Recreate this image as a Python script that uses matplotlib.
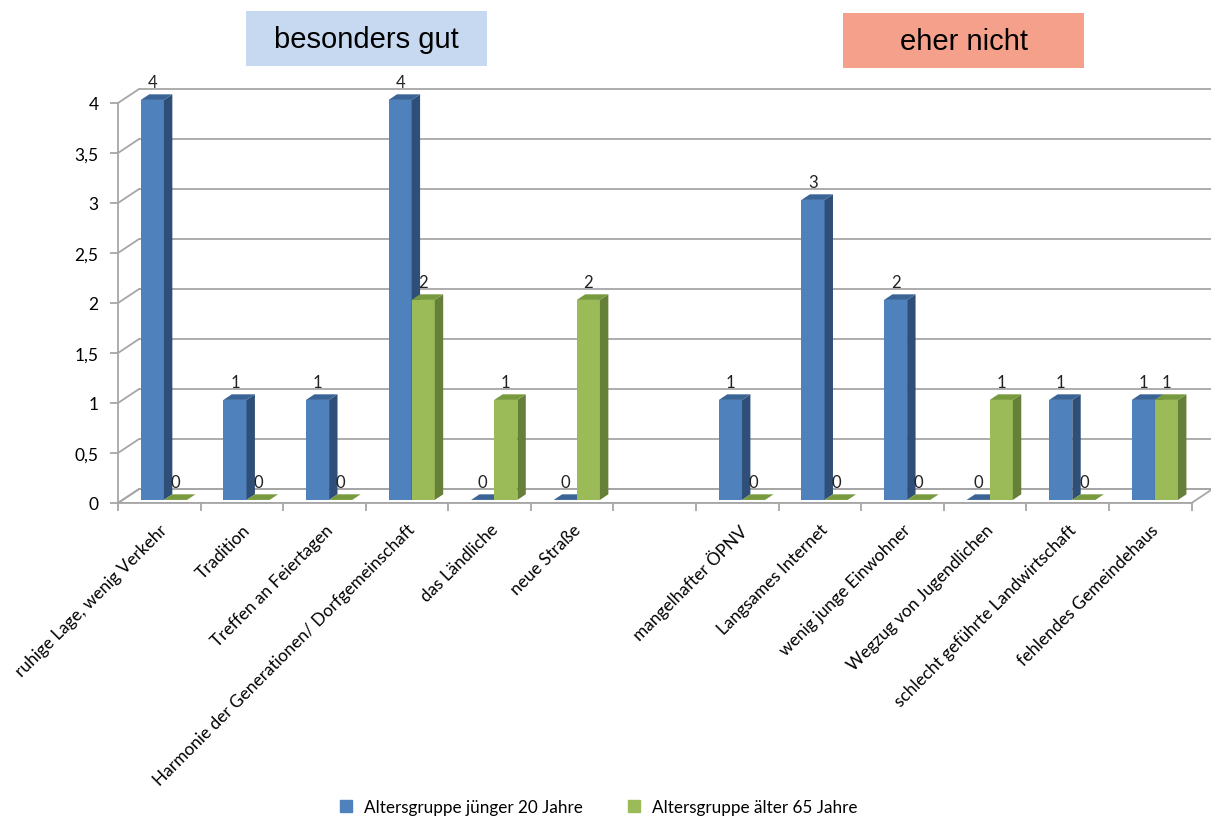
import numpy as np
import matplotlib
matplotlib.use("Agg")
import matplotlib.pyplot as plt
from matplotlib.patches import Polygon, Rectangle
from matplotlib.lines import Line2D

# data
categories = ["ruhige Lage, wenig Verkehr", "Tradition", "Treffen an Feiertagen",
              "Harmonie der Generationen/ Dorfgemeinschaft", "das Ländliche", "neue Straße",
              "",
              "mangelhafter ÖPNV", "Langsames Internet", "wenig junge Einwohner",
              "Wegzug von Jugendlichen", "schlecht geführte Landwirtschaft", "fehlendes Gemeindehaus"]
young = [4, 1, 1, 4, 0, 0, None, 1, 3, 2, 0, 1, 1]
old = [0, 0, 0, 2, 1, 2, None, 0, 0, 0, 1, 0, 1]
series_names = ["Altersgruppe jünger 20 Jahre", "Altersgruppe älter 65 Jahre"]
yticks = np.arange(0, 4.01, 0.5)
group_titles = ["besonders gut", "eher nicht"]

# colours (front, side, top)
blue = ("#4f81bd", "#2f4f78", "#3b6496")
green = ("#9bbb59", "#66803a", "#789a3e")
grid_c = "#a6a6a6"

# pseudo 3d depth in data units
DX, DY = 0.255, 0.14
F_FRONT, F_BACK = 0.22, 0.62
BW = 0.28

plt.rcParams['font.family'] = ['Lato', 'DejaVu Sans']

fig = plt.figure(figsize=(12.11, 8.20), dpi=100)
ax = fig.add_axes([118 / 1211, 316 / 820, 1095 / 1211, 420 / 820])
n = len(categories)
ax.set_xlim(0, 13.26)
ax.set_ylim(0, 4.2)

# floor
floor = Polygon([(0, 0), (n, 0), (n + DX, DY), (DX, DY)], closed=True,
                facecolor="white", edgecolor=grid_c, lw=1.3, zorder=1)
ax.add_patch(floor)
# back wall gridlines + left wall diagonals
for v in yticks:
    ax.plot([DX, n + DX], [v + DY, v + DY], color=grid_c, lw=1.3, zorder=1,
            solid_capstyle='butt')
    ax.plot([0, DX], [v, v + DY], color=grid_c, lw=1.3, zorder=1)


def draw_bar(x0, val, cols):
    xf = x0 + DX * F_FRONT
    yf = DY * F_FRONT
    dx = DX * (F_BACK - F_FRONT)
    dy = DY * (F_BACK - F_FRONT)
    if val > 0:
        ax.bar(xf, val, width=BW, bottom=yf, align='edge', color=cols[0],
               lw=0, zorder=3)
        side = Polygon([(xf + BW, yf), (xf + BW + dx, yf + dy),
                        (xf + BW + dx, yf + val + dy), (xf + BW, yf + val)],
                       closed=True, facecolor=cols[1], lw=0, zorder=3)
        ax.add_patch(side)
    top = Polygon([(xf, yf + val), (xf + BW, yf + val),
                   (xf + BW + dx, yf + val + dy), (xf + dx, yf + val + dy)],
                  closed=True, facecolor=cols[2], lw=0, zorder=3)
    ax.add_patch(top)
    ax.annotate(str(val), (xf + BW / 2, yf + val + dy), xytext=(0, 3),
                textcoords='offset points', ha='center', va='bottom',
                fontsize=12, color="#222222", zorder=5)


for i in range(n):
    if young[i] is None:
        continue
    c = i + 0.5
    draw_bar(c - BW, young[i], blue)
    draw_bar(c, old[i], green)

# axes styling
for s in ['top', 'right']:
    ax.spines[s].set_visible(False)
ax.spines['left'].set_bounds(0, 4)
ax.spines['bottom'].set_bounds(0, n)
for s in ['left', 'bottom']:
    ax.spines[s].set_color(grid_c)
    ax.spines[s].set_linewidth(1.3)
    ax.spines[s].set_zorder(2)

ax.set_yticks(yticks)
ax.set_yticklabels([("%g" % v).replace(".", ",") for v in yticks], fontsize=12.5)
ax.tick_params(axis='y', length=6, width=1.3, color=grid_c, pad=8)

ax.set_xticks(np.arange(n) + 0.5)
ax.set_xticklabels(categories, rotation=45, ha='right', va='top',
                   rotation_mode='anchor', fontsize=12.4)
ax.tick_params(axis='x', which='major', length=0, pad=13)
ax.set_xticks(np.arange(n + 1), minor=True)
ax.tick_params(axis='x', which='minor', length=6, width=1.3, color=grid_c)

# group title boxes
boxes = [(246, 12, 241, 55, "#c6d9f0"), (843, 14, 241, 55, "#f4a08b")]
for (x, y, w, h, col), t in zip(boxes, group_titles):
    fig.patches.append(Rectangle((x / 1211, 1 - (y + h) / 820), w / 1211, h / 820,
                                 transform=fig.transFigure, facecolor=col,
                                 edgecolor='none'))
    fig.text((x + w / 2) / 1211, 1 - (y + h / 2) / 820, t, ha='center', va='center',
             fontsize=21, family=['Liberation Sans', 'DejaVu Sans'])

# legend
handles = [Line2D([], [], marker='s', ls='none', markersize=9, color=blue[0]),
           Line2D([], [], marker='s', ls='none', markersize=9, color=green[0])]
fig.legend(handles, series_names, loc='lower center', bbox_to_anchor=(0.49, -0.014),
           ncol=2, frameon=False, fontsize=12.3, handletextpad=0.05,
           columnspacing=2.0)

fig.savefig("out.png", dpi=100)
